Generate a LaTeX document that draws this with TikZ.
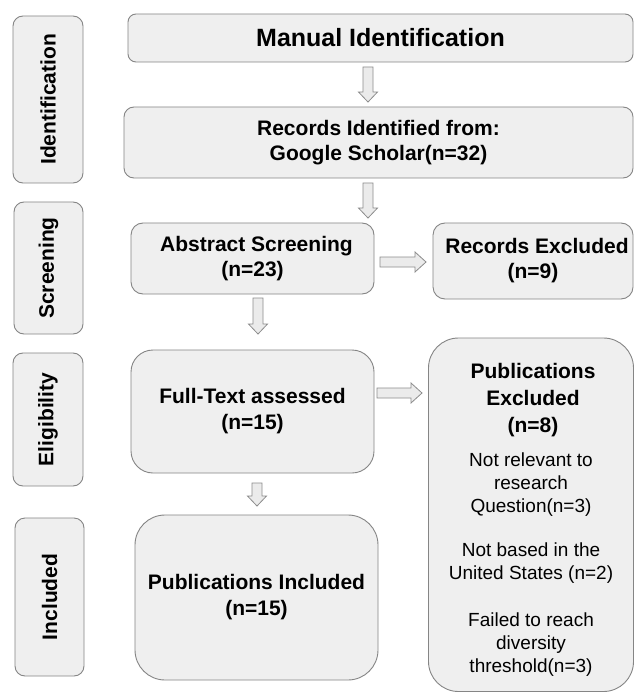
\documentclass[tikz,border=0pt]{standalone}
\usepackage{fontspec}
\setmainfont{Liberation Sans}
\usetikzlibrary{calc}
\definecolor{boxfill}{HTML}{EFEFEF}
\definecolor{boxline}{HTML}{858585}
\definecolor{arrfill}{HTML}{EBEBEB}
\definecolor{arrline}{HTML}{8C8C8C}
\begin{document}
\begin{tikzpicture}[x=1pt,y=-1pt,
  box/.style={draw=boxline, fill=boxfill, line width=0.9pt, align=center, inner sep=0pt,
              font=\bfseries\fontsize{21}{25}\selectfont},
  stage/.style={box, rotate=90},
  plaintext/.style={align=center, inner sep=0pt},
  blockarrow/.style={draw=arrline, fill=arrfill, line width=0.8pt, line join=miter},
  dnarrow/.style={blockarrow, to path={let \p1=(\tikztostart), \p2=(\tikztotarget) in
     (\x1-5pt,\y1) -- (\x1-5pt,\y2+10pt) -- (\x1-9.5pt,\y2+10pt) -- (\x1,\y2)
     -- (\x1+9.5pt,\y2+10pt) -- (\x1+5pt,\y2+10pt) -- (\x1+5pt,\y1) -- cycle}},
  rtarrow/.style={blockarrow, to path={let \p1=(\tikztostart), \p2=(\tikztotarget) in
     (\x1,\y1+5pt) -- (\x2-11pt,\y1+5pt) -- (\x2-11pt,\y1+10pt) -- (\x2,\y1)
     -- (\x2-11pt,\y1-10pt) -- (\x2-11pt,\y1-5pt) -- (\x1,\y1-5pt) -- cycle}}]
\fill[white] (0,0) rectangle (634,692);
\useasboundingbox (0,0) rectangle (634,692);

% stage boxes
\node[stage, rounded corners=10pt, minimum width=167, minimum height=70] (sid) at (48,99.5) {Identification};
\node[stage, rounded corners=10pt, minimum width=132, minimum height=69] (sscr) at (48.5,268) {Screening};
\node[stage, rounded corners=10pt, minimum width=133, minimum height=70] (seli) at (48,419.5) {Eligibility};
\node[stage, rounded corners=10pt, minimum width=158, minimum height=69] (sinc) at (49.5,597) {Included};

% main boxes
\node[box, rounded corners=8pt, minimum width=505, minimum height=48,
      font=\bfseries\fontsize{25}{30}\selectfont] (man) at (380.5,38) {Manual Identification};
\node[box, rounded corners=10pt, minimum width=509, minimum height=71] (rec) at (378.5,142.5)
      {Records Identified from:\\Google Scholar(n=32)};
\node[box, rounded corners=12pt, minimum width=243, minimum height=71] (abs) at (252.5,258.5)
      {\hspace*{8pt}Abstract Screening\\(n=23)};
\node[box, rounded corners=12pt, minimum width=200, minimum height=76] (rex) at (533,261)
      {\hspace*{8pt}Records Excluded\\(n=9)};
\node[box, rounded corners=22pt, minimum width=243, minimum height=123,
      font=\bfseries\fontsize{21}{26}\selectfont] (ful) at (252.5,411.5)
      {Full-Text assessed\\(n=15)};
\node[box, rounded corners=30pt, minimum width=205, minimum height=353.5] (pex) at (531,514.75) {};
\node[plaintext, font=\bfseries\fontsize{21}{27}\selectfont] (pext) at (533,400)
      {Publications\\Excluded\\(n=8)};
\node[plaintext, font=\fontsize{19}{23}\selectfont] (pexr) at (531,564.5)
      {Not relevant to\\research\\Question(n=3)\\[21pt]Not based in the\\United States (n=2)\\[24pt]Failed to reach\\diversity\\threshold(n=3)};
\node[box, rounded corners=30pt, minimum width=243, minimum height=165,
      font=\bfseries\fontsize{21}{26}\selectfont] (pin) at (256.5,597.5)
      {Publications Included\\(n=15)};

% arrows
\coordinate (a1s) at (368,67);  \coordinate (a1e) at (368,102);
\coordinate (a2s) at (368,183); \coordinate (a2e) at (368,218);
\coordinate (a3s) at (380,262); \coordinate (a3e) at (426,262);
\coordinate (a4s) at (258,298); \coordinate (a4e) at (258,334);
\coordinate (a5s) at (377,393); \coordinate (a5e) at (422,393);
\coordinate (a6s) at (257,483); \coordinate (a6e) at (257,506);
\draw[dnarrow] (a1s) to (a1e);
\draw[dnarrow] (a2s) to (a2e);
\draw[rtarrow] (a3s) to (a3e);
\draw[dnarrow] (a4s) to (a4e);
\draw[rtarrow] (a5s) to (a5e);
\draw[dnarrow] (a6s) to (a6e);
\end{tikzpicture}
\end{document}
